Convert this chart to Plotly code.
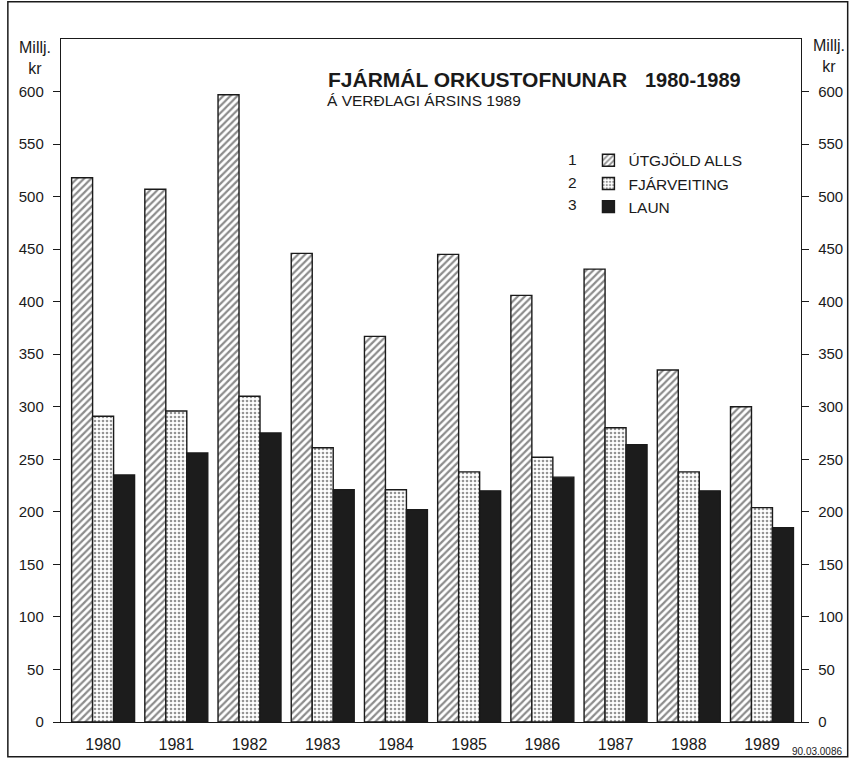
import plotly.graph_objects as go

# ---- data ----
years = ["1980", "1981", "1982", "1983", "1984", "1985", "1986", "1987", "1988", "1989"]
utgjold_alls = [518, 507, 597, 446, 367, 445, 406, 431, 335, 300]
fjarveiting = [291, 296, 310, 261, 221, 238, 252, 280, 238, 204]
laun = [235, 256, 275, 221, 202, 220, 233, 264, 220, 185]
series_names = ["ÚTGJÖLD ALLS", "FJÁRVEITING", "LAUN"]
series_numbers = ["1", "2", "3"]
y_tick_values = [0, 50, 100, 150, 200, 250, 300, 350, 400, 450, 500, 550, 600]

title_main = "FJÁRMÁL ORKUSTOFNUNAR"
title_years = "1980-1989"
subtitle = "Á VERÐLAGI ÁRSINS 1989"
unit_label = "Millj.<br>kr"
doc_code = "90.03.0086"

# ---- geometry (figure fills the whole 855 x 765 window) ----
W, H = 855, 765
ML, MR, MT, MB = 61, 49, 39, 38
PW = W - ML - MR
PH = H - MT - MB
FONT = "Liberation Sans, Arial, Helvetica, sans-serif"
INK = "#1a1a1a"


def px(x):
    """window x pixel -> paper coordinate"""
    return (x - ML) / PW


def py(y):
    """window y pixel -> paper coordinate"""
    return (H - MB - y) / PH


fig = go.Figure()

fig.add_trace(go.Bar(
    x=years, y=utgjold_alls, name=series_names[0],
    marker=dict(color="white",
                pattern=dict(shape="/", size=5, solidity=0.45, fgcolor=INK, bgcolor="white"),
                line=dict(color=INK, width=1.4)),
))
fig.add_trace(go.Bar(
    x=years, y=fjarveiting, name=series_names[1],
    marker=dict(color="white",
                pattern=dict(shape=".", size=4, solidity=0.35, fgcolor="#2a2a2a", bgcolor="white"),
                line=dict(color=INK, width=1.4)),
))
fig.add_trace(go.Bar(
    x=years, y=laun, name=series_names[2],
    marker=dict(color="#1c1c1c", line=dict(color=INK, width=1.4)),
))
# invisible companion trace so that the right-hand axis is drawn
fig.add_trace(go.Scatter(
    x=years, y=laun, yaxis="y2", mode="lines", line=dict(width=0),
    opacity=0, showlegend=False, hoverinfo="skip",
))

annotations = [
    dict(text=f"<b>{title_main}</b>", x=px(328), y=py(80), xref="paper", yref="paper",
         xanchor="left", yanchor="middle", showarrow=False, font=dict(size=21, color=INK, family=FONT)),
    dict(text=f"<b>{title_years}</b>", x=px(748), y=py(80), xref="paper", yref="paper",
         xanchor="right", yanchor="middle", showarrow=False, font=dict(size=20, color=INK, family=FONT)),
    dict(text=subtitle, x=px(327), y=py(101), xref="paper", yref="paper",
         xanchor="left", yanchor="middle", showarrow=False, font=dict(size=15.5, color=INK, family=FONT)),
    dict(text=unit_label, x=px(35), y=py(58), xref="paper", yref="paper",
         xanchor="center", yanchor="middle", showarrow=False, font=dict(size=16, color=INK, family=FONT)),
    dict(text=unit_label, x=px(834), y=py(56), xref="paper", yref="paper",
         xanchor="center", yanchor="middle", showarrow=False, font=dict(size=16, color=INK, family=FONT)),
    dict(text=doc_code, x=px(849), y=py(757), xref="paper", yref="paper",
         xanchor="right", yanchor="middle", showarrow=False, font=dict(size=10, color=INK, family=FONT)),
]
for i, num in enumerate(series_numbers):
    annotations.append(dict(text=num, x=px(576), y=py(160.5 + 22.7 * i), xref="paper", yref="paper",
                            xanchor="center", yanchor="middle", showarrow=False,
                            font=dict(size=15.5, color=INK, family=FONT)))

shapes = [
    # outer frame of the scanned figure
    dict(type="rect", xref="paper", yref="paper", x0=px(7.5), x1=px(853), y0=py(762), y1=py(1.5),
         line=dict(color=INK, width=1.5), fillcolor="rgba(0,0,0,0)", layer="above"),
]

fig.update_layout(
    width=W, height=H,
    margin=dict(l=ML, r=MR, t=MT, b=MB),
    paper_bgcolor="white", plot_bgcolor="white",
    font=dict(family=FONT, color=INK, size=15),
    barmode="group", bargap=0.14, bargroupgap=0,
    showlegend=True,
    legend=dict(x=px(592), y=py(144.5), xanchor="left", yanchor="top",
                font=dict(size=15.5, family=FONT, color=INK),
                bgcolor="rgba(0,0,0,0)", borderwidth=0, tracegroupgap=0, itemwidth=30),
    xaxis=dict(type="category", range=[-0.575, 9.533], showline=True, linecolor=INK, linewidth=1.4,
               mirror=True, ticks="outside", ticklen=8, tickcolor="rgba(0,0,0,0)",
               tickfont=dict(size=16, family=FONT, color=INK), showgrid=False, zeroline=False),
    yaxis=dict(range=[0, 650], tickvals=y_tick_values, showline=True, linecolor=INK, linewidth=1.4,
               ticks="outside", ticklen=7, tickwidth=1.4, tickcolor=INK, ticklabelstandoff=6,
               tickfont=dict(size=15, family=FONT, color=INK), showgrid=False, zeroline=False),
    yaxis2=dict(range=[0, 650], tickvals=y_tick_values, overlaying="y", side="right",
                showline=True, linecolor=INK, linewidth=1.4,
                ticks="outside", ticklen=7, tickwidth=1.4, tickcolor=INK, ticklabelstandoff=6,
                tickfont=dict(size=15, family=FONT, color=INK), showgrid=False, zeroline=False),
    annotations=annotations,
    shapes=shapes,
)

# remove the default 8px page margin so the figure sits exactly in the window; hide the modebar
fig.write_html("out.html",
               config={"displayModeBar": False},
               post_script="document.body.style.margin='0';document.body.style.overflow='hidden';")
